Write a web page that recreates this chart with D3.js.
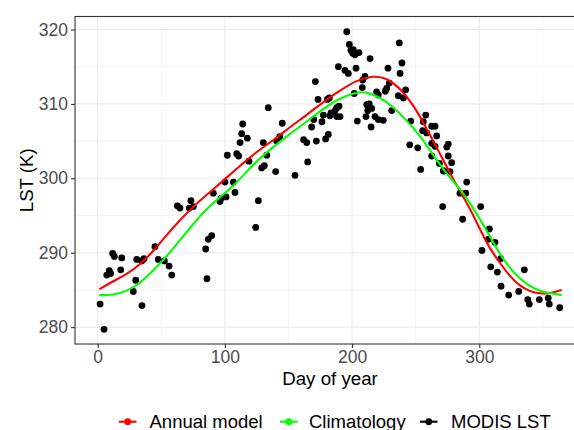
<!DOCTYPE html>
<html>
<head>
<meta charset="utf-8">
<script src="https://cdn.jsdelivr.net/npm/d3@7"></script>
<style>
  html, body { margin: 0; padding: 0; background: #fff; }
  svg { display: block; font-family: "Liberation Sans", Arial, Helvetica, sans-serif; }
</style>
</head>
<body>
<svg id="chart" width="574" height="430"></svg>
<script>
// ---- Data ----
const lstDay = [1.9,5.0,7.1,9.1,10.2,11.8,13.1,18.9,18.1,28.0,29.9,34.8,30.7,34.6,36.4,45.0,47.6,52.4,56.1,58.2,
  62.6,64.7,72.0,73.3,75.2,84.9,86.9,89.6,85.9,90.9,96.1,96.9,100.1,100.9,106.6,107.9,101.9,109.3,110.8,111.9,
  113.2,114.0,117.6,118.9,130.2,132.9,128.9,131.0,126.3,124.2,134.1,145.1,143.1,140.7,139.9,155.1,161.9,164.3,165.1,171.9,
  179.2,181.3,168.2,169.8,171.1,173.2,176.3,177.4,180.5,182.1,182.6,183.4,186.6,187.9,189.7,187.9,190.5,189.2,194.4,197.0,
  195.8,197.8,199.1,200.5,202.3,200.9,205.4,203.1,214.1,210.1,208.3,201.7,208.0,204.1,211.5,213.5,215.4,212.3,210.9,218.0,
  220.6,224.5,214.9,219.3,220.6,226.1,227.2,229.2,228.2,237.1,239.2,237.7,242.1,236.3,240.3,231.1,246.1,245.3,251.6,253.9,
  257.9,256.0,262.6,265.2,258.6,255.5,266.5,262.6,265.2,275.6,274.4,262.6,275.6,278.3,268.6,272.5,271.7,277.0,290.1,284.8,
  289.3,271.2,286.9,301.1,307.9,307.1,312.3,302.1,309.0,314.2,316.8,317.1,323.1,331.0,335.4,338.1,339.3,347.2,354.2,355.0,
  363.2];
const lstValue = [283.1,279.7,287.0,287.6,287.2,289.9,289.5,289.3,287.7,284.8,286.3,282.9,289.1,288.9,289.2,290.8,289.1,288.9,288.2,287.0,
  296.3,296.0,296.0,297.0,296.2,290.5,291.8,292.3,286.5,298.0,296.9,297.3,299.5,297.5,299.5,298.1,303.1,303.3,303.0,304.8,
  306.0,307.3,305.4,302.3,304.8,303.1,301.4,301.7,297.0,293.4,309.5,307.4,305.6,305.0,300.9,300.4,305.2,304.8,302.2,305.0,
  305.3,305.9,306.9,307.9,313.0,310.6,307.6,308.5,310.6,310.8,308.4,308.8,309.1,309.5,309.7,308.3,308.3,315.0,314.5,314.1,
  319.7,318.0,317.2,316.8,316.6,317.3,316.9,314.8,316.1,313.7,313.2,311.4,312.2,307.7,309.9,310.0,309.4,309.1,308.3,308.3,
  307.9,307.8,306.9,311.6,311.2,311.7,312.1,312.8,314.8,318.2,315.5,314.1,311.9,311.1,310.8,309.1,307.7,304.5,304.1,301.2,
  308.5,307.6,307.0,307.0,306.1,306.4,305.7,304.7,304.3,304.6,304.2,303.0,303.0,302.1,302.0,301.0,301.0,300.9,299.5,298.0,
  298.0,296.2,294.5,296.2,293.2,291.8,291.4,290.3,288.1,287.4,289.2,285.5,284.3,284.8,287.7,283.7,283.1,283.7,283.9,283.1,
  282.6];

const annualDay   = [1.3,12.3,22.8,33.3,43.7,54.2,64.7,75.2,85.7,96.2,106.6,125.0,138.1,151.2,164.3,177.4,190.5,203.6,216.7,227.2,
  237.7,248.1,258.6,269.1,279.6,292.7,300.6,308.4,316.3,324.1,332.0,339.8,347.7,355.5,364.8];
const annualValue = [285.1,286.2,287.1,288.4,290.2,292.4,294.4,296.2,297.8,299.3,300.9,303.6,305.1,306.9,308.5,310.3,311.8,313.2,313.8,313.5,
  312.1,309.9,306.7,303.3,299.8,296.0,293.1,290.5,288.6,286.8,285.5,284.8,284.5,284.5,285.0];

const climDay   = [1.3,12.3,22.8,33.3,43.7,54.2,64.7,75.2,85.7,96.2,106.6,125.0,138.1,151.2,164.3,177.4,190.5,203.6,211.5,221.9,
  232.4,242.9,253.4,258.6,269.1,278.3,284.8,295.3,305.8,316.3,326.7,337.3,347.7,358.2,364.8];
const climValue = [284.3,284.3,284.8,285.9,287.6,289.5,291.7,293.9,295.9,297.5,298.9,302.4,304.2,306.0,307.6,309.4,310.8,311.6,311.6,310.9,
  309.6,307.8,305.7,304.4,301.8,299.8,298.6,296.0,293.0,289.7,287.3,285.7,284.8,284.5,284.3];

const xTicks = [0, 100, 200, 300];
const xMinor = [50, 150, 250, 350];
const yTicks = [280, 290, 300, 310, 320];
const yMinor = [285, 295, 305, 315];

const seriesNames  = ["Annual model", "Climatology", "MODIS LST"];
const seriesColors = ["#FF0000", "#00FF00", "#000000"];

// ---- Layout ----
const svg = d3.select("#chart");
const panel = { left: 75, right: 585, top: 16.5, bottom: 344 };

const x = d3.scaleLinear().domain([-17.85, 383.1]).range([panel.left, panel.right]);
const y = d3.scaleLinear().domain([277.73, 321.75]).range([panel.bottom, panel.top]);

const g = svg.append("g");

// minor grid
g.selectAll(".xminor").data(xMinor).enter().append("line")
  .attr("x1", d => x(d)).attr("x2", d => x(d))
  .attr("y1", panel.top).attr("y2", panel.bottom)
  .attr("stroke", "#EBEBEB").attr("stroke-width", 0.55);
g.selectAll(".yminor").data(yMinor).enter().append("line")
  .attr("x1", panel.left).attr("x2", panel.right)
  .attr("y1", d => y(d)).attr("y2", d => y(d))
  .attr("stroke", "#EBEBEB").attr("stroke-width", 0.55);
// major grid
g.selectAll(".xmajor").data(xTicks).enter().append("line")
  .attr("x1", d => x(d)).attr("x2", d => x(d))
  .attr("y1", panel.top).attr("y2", panel.bottom)
  .attr("stroke", "#EBEBEB").attr("stroke-width", 1.1);
g.selectAll(".ymajor").data(yTicks).enter().append("line")
  .attr("x1", panel.left).attr("x2", panel.right)
  .attr("y1", d => y(d)).attr("y2", d => y(d))
  .attr("stroke", "#EBEBEB").attr("stroke-width", 1.1);

// points
const pts = lstDay.map((d, i) => ({ d, v: lstValue[i] }));
g.selectAll(".pt").data(pts).enter().append("circle")
  .attr("cx", p => x(p.d)).attr("cy", p => y(p.v)).attr("r", 3.4)
  .attr("fill", "#000");

// lines
const line = d3.line().x(p => x(p[0])).y(p => y(p[1])).curve(d3.curveBasis);
g.append("path").datum(annualDay.map((d, i) => [d, annualValue[i]]))
  .attr("d", line).attr("fill", "none").attr("stroke", "#FF0000").attr("stroke-width", 2.1);
g.append("path").datum(climDay.map((d, i) => [d, climValue[i]]))
  .attr("d", line).attr("fill", "none").attr("stroke", "#00FF00").attr("stroke-width", 2.1);

// panel border
g.append("rect")
  .attr("x", panel.left).attr("y", panel.top)
  .attr("width", panel.right - panel.left).attr("height", panel.bottom - panel.top)
  .attr("fill", "none").attr("stroke", "#333333").attr("stroke-width", 1.1);

// axes
const xAxis = d3.axisBottom(x).tickValues(xTicks).tickSize(4).tickPadding(3).tickFormat(d3.format("d"));
const yAxis = d3.axisLeft(y).tickValues(yTicks).tickSize(4).tickPadding(3).tickFormat(d3.format("d"));

const gx = svg.append("g").attr("transform", `translate(0,${panel.bottom})`).call(xAxis);
const gy = svg.append("g").attr("transform", `translate(${panel.left},0)`).call(yAxis);
[gx, gy].forEach(a => {
  a.select(".domain").remove();
  a.selectAll(".tick line").attr("stroke", "#333333").attr("stroke-width", 1.1);
  a.selectAll(".tick text").attr("fill", "#4D4D4D").style("font-size", "17.5px")
    .style("font-family", '"Liberation Sans", Arial, sans-serif');
});

// axis titles
svg.append("text").attr("x", (panel.left + panel.right) / 2).attr("y", 385)
  .attr("text-anchor", "middle").style("font-size", "18.7px").attr("fill", "#000")
  .text("Day of year");
svg.append("text")
  .attr("transform", `translate(33,${(panel.top + panel.bottom) / 2}) rotate(-90)`)
  .attr("text-anchor", "middle").style("font-size", "18.7px").attr("fill", "#000")
  .text("LST (K)");

// legend
const legendKeyX = [119, 280, 420];
const legendTextX = [149.5, 309, 451];
const legendY = 421.7;
const lg = svg.append("g");
seriesNames.forEach((name, i) => {
  lg.append("line")
    .attr("x1", legendKeyX[i]).attr("x2", legendKeyX[i] + 17.5)
    .attr("y1", legendY).attr("y2", legendY)
    .attr("stroke", seriesColors[i]).attr("stroke-width", 2.1);
  lg.append("circle")
    .attr("cx", legendKeyX[i] + 8.75).attr("cy", legendY).attr("r", 3.4)
    .attr("fill", seriesColors[i]);
  lg.append("text").attr("x", legendTextX[i]).attr("y", legendY + 6.3)
    .style("font-size", "18.5px").attr("fill", "#000").text(name);
});
</script>
</body>
</html>
